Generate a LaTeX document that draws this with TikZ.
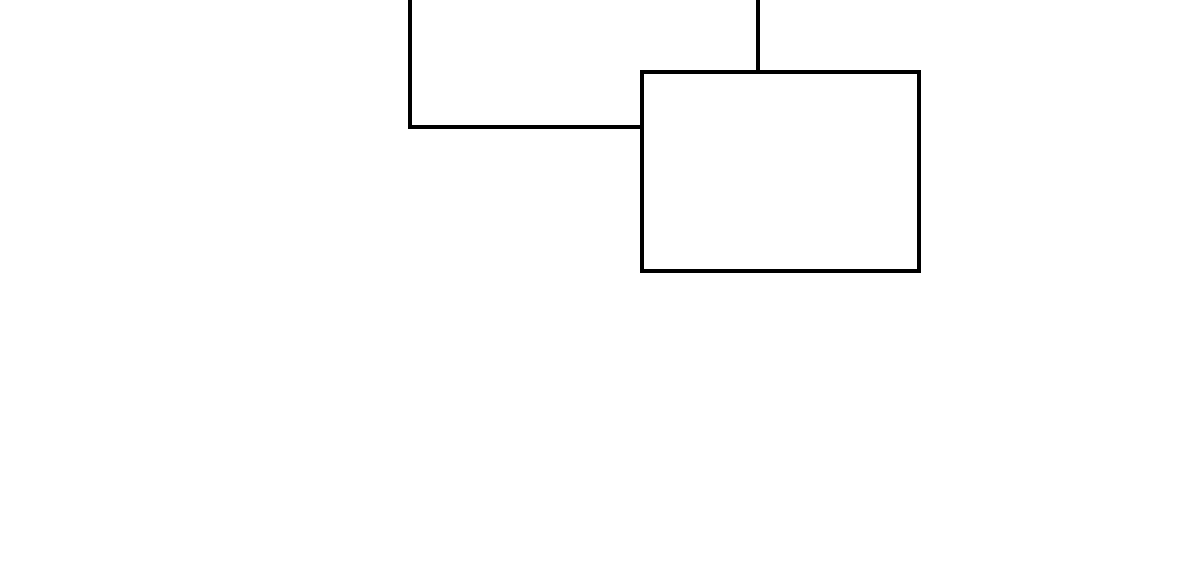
\documentclass[tikz,border=0pt]{standalone}
\begin{document}
\begin{tikzpicture}[x=1pt,y=-1pt,
  boxstyle/.style={draw=black,line width=3.8pt,rectangle,inner sep=0pt,minimum width=277pt,minimum height=199pt},
  wire/.style={draw=black,line width=3.8pt}]
\useasboundingbox (0,0) rectangle (1200,571);
\node[boxstyle] (box) at (780.5,171.5) {};
\coordinate (topA) at (410,-3);
\coordinate (topB) at (758,-3);
\coordinate (joinA) at (642,127);
\draw[wire] (topA) |- (joinA -| box.west);
\draw[wire] (topB) -- (topB |- box.north);
\end{tikzpicture}
\end{document}
